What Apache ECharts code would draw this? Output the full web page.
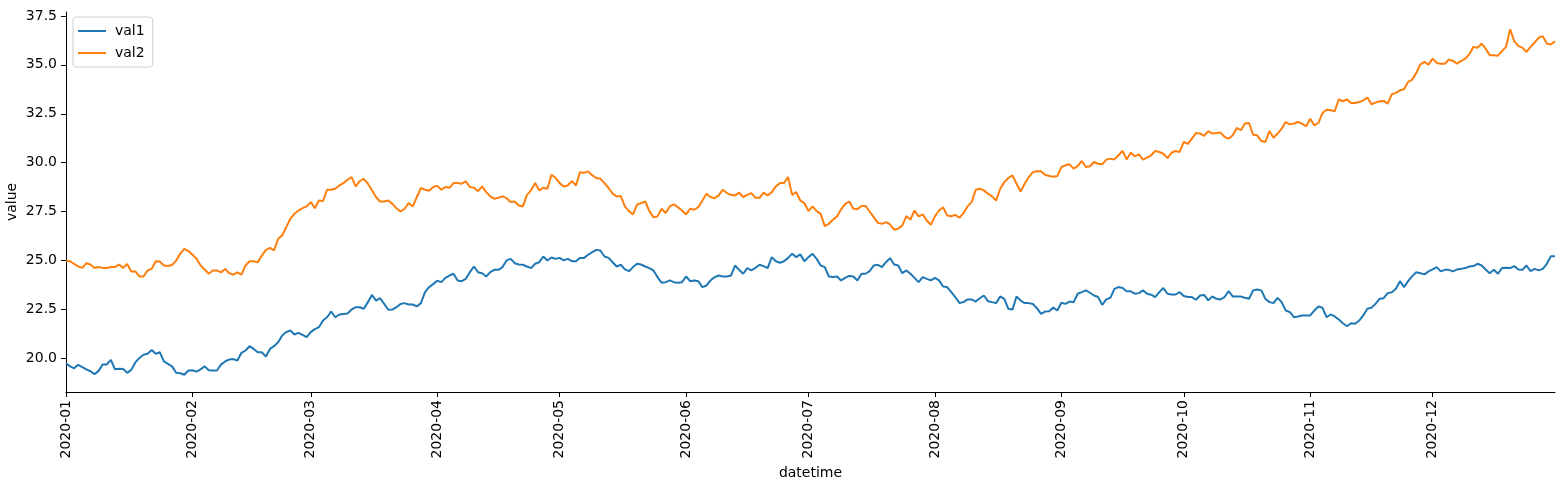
<!DOCTYPE html>
<html>
<head>
<meta charset="utf-8">
<script src="https://cdn.jsdelivr.net/npm/echarts@6/dist/echarts.min.js"></script>
<style>
html,body{margin:0;padding:0;background:#fff;}
#chart{width:1563px;height:481px;}
</style>
</head>
<body>
<div id="chart"></div>
<script>
const START_DATE = [2020, 0, 1];
const END_DATE = [2020, 11, 31];
const seriesNames = ['val1', 'val2'];
const xTickLabels = ['2020-01','2020-02','2020-03','2020-04','2020-05','2020-06','2020-07','2020-08','2020-09','2020-10','2020-11','2020-12'];
const yTickLabels = [20.0, 22.5, 25.0, 27.5, 30.0, 32.5, 35.0, 37.5];

const val1 = [
19.76,19.6,19.5,19.68,19.56,19.45,19.35,19.2,19.37,19.7,19.7,19.93,19.45,19.48,19.46,19.27,19.42,19.8,20.03,20.19,
20.24,20.44,20.24,20.32,19.85,19.73,19.6,19.27,19.25,19.17,19.39,19.4,19.33,19.45,19.6,19.4,19.39,19.39,19.69,19.85,
19.95,19.97,19.9,20.29,20.41,20.63,20.49,20.32,20.32,20.1,20.49,20.63,20.83,21.18,21.35,21.43,21.23,21.31,21.21,21.09,
21.35,21.5,21.6,21.94,22.11,22.4,22.11,22.25,22.28,22.3,22.5,22.62,22.62,22.54,22.88,23.25,22.96,23.08,22.79,22.49,
22.5,22.62,22.79,22.83,22.76,22.76,22.66,22.83,23.39,23.65,23.8,23.97,23.9,24.12,24.24,24.33,23.99,23.95,24.07,24.41,
24.7,24.41,24.36,24.19,24.41,24.53,24.53,24.67,25.01,25.09,24.87,24.8,24.79,24.7,24.62,24.84,24.92,25.21,25.01,25.16,
25.09,25.14,25.01,25.09,24.97,24.97,25.14,25.14,25.3,25.43,25.55,25.52,25.21,25.14,24.92,24.7,24.79,24.55,24.46,24.67,
24.84,24.8,24.7,24.62,24.5,24.16,23.87,23.9,23.99,23.9,23.87,23.9,24.19,23.95,23.99,23.95,23.65,23.73,23.99,24.16,
24.24,24.19,24.19,24.24,24.75,24.53,24.33,24.62,24.5,24.63,24.79,24.72,24.62,25.18,24.97,24.89,24.97,25.14,25.35,25.18,
25.32,24.97,25.18,25.35,25.09,24.75,24.67,24.19,24.16,24.19,23.99,24.12,24.22,24.19,23.99,24.33,24.33,24.46,24.75,24.79,
24.67,24.92,25.13,24.8,24.75,24.36,24.5,24.33,24.12,23.9,24.16,24.07,23.99,24.12,23.99,23.68,23.65,23.39,23.13,22.84,
22.88,23.02,23.02,22.91,23.08,23.22,22.93,22.88,22.83,23.17,23.05,22.54,22.5,23.17,22.96,22.83,22.83,22.79,22.57,22.28,
22.4,22.42,22.6,22.45,22.85,22.79,22.91,22.88,23.31,23.39,23.48,23.36,23.22,23.14,22.74,23.02,23.1,23.56,23.65,23.6,
23.44,23.43,23.31,23.34,23.48,23.31,23.26,23.14,23.39,23.6,23.31,23.27,23.27,23.39,23.19,23.14,23.14,23.0,23.22,23.25,
22.97,23.17,23.05,23.02,23.14,23.44,23.17,23.17,23.17,23.1,23.05,23.48,23.53,23.48,23.05,22.88,22.83,23.1,22.88,22.45,
22.37,22.11,22.15,22.2,22.2,22.2,22.45,22.66,22.59,22.11,22.25,22.15,21.99,21.8,21.65,21.8,21.78,21.94,22.2,22.54,
22.59,22.79,23.05,23.08,23.34,23.39,23.56,23.95,23.65,23.95,24.21,24.41,24.36,24.3,24.45,24.55,24.67,24.45,24.53,24.53,
24.45,24.55,24.58,24.62,24.7,24.72,24.84,24.75,24.55,24.36,24.53,24.33,24.62,24.64,24.62,24.72,24.55,24.53,24.75,24.46,
24.58,24.5,24.58,24.84,25.23,25.23
];

const val2 = [
25.0,24.97,24.83,24.7,24.63,24.87,24.8,24.62,24.67,24.63,24.62,24.67,24.67,24.8,24.63,24.83,24.45,24.45,24.19,24.19,
24.5,24.58,24.97,24.95,24.75,24.73,24.78,25.0,25.35,25.6,25.49,25.3,25.1,24.75,24.55,24.33,24.5,24.5,24.4,24.57,
24.36,24.28,24.4,24.28,24.75,24.97,24.97,24.92,25.26,25.55,25.65,25.52,26.12,26.29,26.71,27.14,27.39,27.56,27.68,27.77,
27.99,27.68,28.07,28.04,28.62,28.62,28.67,28.84,28.96,29.13,29.27,28.79,29.06,29.18,28.93,28.59,28.25,28.02,28.02,28.07,
27.9,27.68,27.51,27.65,27.94,27.77,28.25,28.71,28.62,28.57,28.76,28.82,28.62,28.76,28.72,28.96,28.96,28.93,29.05,28.76,
28.72,28.55,28.79,28.5,28.28,28.16,28.21,28.28,28.19,27.99,28.02,27.82,27.77,28.36,28.59,28.96,28.59,28.72,28.67,29.39,
29.23,28.96,28.79,28.84,29.06,28.84,29.52,29.49,29.56,29.35,29.22,29.18,28.96,28.71,28.42,28.28,28.3,27.77,27.53,27.36,
27.87,27.94,28.02,27.53,27.22,27.26,27.65,27.43,27.77,27.87,27.73,27.56,27.36,27.65,27.6,27.73,28.07,28.42,28.25,28.19,
28.33,28.62,28.45,28.36,28.33,28.47,28.25,28.36,28.45,28.21,28.21,28.47,28.33,28.5,28.79,28.96,28.96,29.27,28.36,28.5,
28.07,27.94,27.53,27.77,27.53,27.39,26.76,26.88,27.09,27.26,27.62,27.9,28.02,27.65,27.62,27.79,27.79,27.51,27.22,26.93,
26.88,26.97,26.85,26.58,26.63,26.8,27.27,27.1,27.56,27.26,27.36,27.05,26.83,27.26,27.56,27.73,27.31,27.27,27.34,27.19,
27.43,27.77,27.99,28.62,28.67,28.59,28.42,28.28,28.07,28.67,29.01,29.22,29.35,28.93,28.53,28.93,29.27,29.52,29.57,29.57,
29.39,29.32,29.28,29.32,29.78,29.87,29.92,29.7,29.83,30.09,29.78,29.82,30.04,29.95,29.92,30.16,30.21,30.17,30.38,30.6,
30.17,30.51,30.33,30.43,30.16,30.26,30.38,30.6,30.55,30.46,30.24,30.51,30.6,30.55,31.06,30.97,31.23,31.52,31.49,31.37,
31.62,31.49,31.52,31.54,31.32,31.23,31.4,31.78,31.66,32.0,32.03,31.43,31.4,31.11,31.06,31.62,31.28,31.49,31.74,32.08,
31.96,32.0,32.08,32.0,31.86,32.25,31.91,32.03,32.54,32.71,32.68,32.63,33.24,33.14,33.24,33.05,33.05,33.1,33.19,33.33,
32.99,33.07,33.14,33.16,33.02,33.5,33.57,33.7,33.75,34.13,34.25,34.59,35.03,35.15,35.01,35.32,35.1,35.06,35.06,35.27,
35.2,35.06,35.2,35.32,35.54,35.92,35.87,36.09,35.83,35.49,35.49,35.47,35.7,35.92,36.82,36.21,35.97,35.88,35.66,35.92,
36.14,36.39,36.46,36.09,36.04,36.21
];

// x positions are day offsets from START_DATE
const DAY = 86400000;
const t0 = Date.UTC(START_DATE[0], START_DATE[1], START_DATE[2]);
const tEnd = Date.UTC(END_DATE[0], END_DATE[1], END_DATE[2]);
const lastDay = Math.round((tEnd - t0) / DAY);
const monthTicks = xTickLabels.map(s => Math.round((Date.UTC(+s.slice(0, 4), +s.slice(5, 7) - 1, 1) - t0) / DAY));

const FONT = 'DejaVu Sans';
const chart = echarts.init(document.getElementById('chart'), null, {renderer: 'canvas'});
chart.setOption({
  animation: false,
  backgroundColor: '#fff',
  color: ['#1f77b4', '#ff7f0e'],
  textStyle: {fontFamily: FONT},
  grid: {left: 66, right: 8, top: 12, bottom: 89, containLabel: false, outerBoundsMode: 'none'},
  legend: {
    orient: 'vertical',
    left: 73, top: 17,
    data: seriesNames.map(n => ({name: n, icon: 'rect'})),
    itemWidth: 28, itemHeight: 2, itemGap: 8,
    padding: [7, 8, 7, 5],
    borderColor: '#d0d0d0', borderWidth: 1, borderRadius: 3,
    backgroundColor: 'rgba(255,255,255,0.8)',
    textStyle: {fontFamily: FONT, fontSize: 14, color: '#000', padding: [0, 0, 0, 4]}
  },
  xAxis: {
    type: 'value',
    min: 0, max: lastDay,
    name: 'datetime', nameLocation: 'middle', nameGap: 73,
    nameTextStyle: {fontFamily: FONT, fontSize: 14, color: '#000'},
    axisLine: {lineStyle: {color: '#000', width: 1}},
    axisTick: {show: true, length: 5, lineStyle: {color: '#000'}, customValues: monthTicks},
    axisLabel: {
      customValues: monthTicks, rotate: 90, margin: 8,
      fontFamily: FONT, fontSize: 14, color: '#000', hideOverlap: false,
      formatter: v => { const i = monthTicks.indexOf(Math.round(v)); return i >= 0 ? xTickLabels[i] : ''; }
    },
    splitLine: {show: false}
  },
  yAxis: {
    type: 'value',
    min: 18.29, max: 37.7,
    name: 'value', nameLocation: 'middle', nameGap: 47, nameRotate: 90, nameMoveOverlap: false,
    nameTextStyle: {fontFamily: FONT, fontSize: 14, color: '#000'},
    axisLine: {show: true, lineStyle: {color: '#000', width: 1}},
    axisTick: {show: true, length: 5, lineStyle: {color: '#000'}, customValues: yTickLabels},
    axisLabel: {
      customValues: yTickLabels, margin: 9,
      fontFamily: FONT, fontSize: 14, color: '#000',
      formatter: v => Number(v).toFixed(1)
    },
    splitLine: {show: false}
  },
  series: seriesNames.map((n, k) => ({
    name: n,
    type: 'line',
    showSymbol: false, symbol: 'none',
    lineStyle: {width: 2},
    data: (k === 0 ? val1 : val2).map((v, i) => [i, v])
  }))
});
</script>
</body>
</html>
